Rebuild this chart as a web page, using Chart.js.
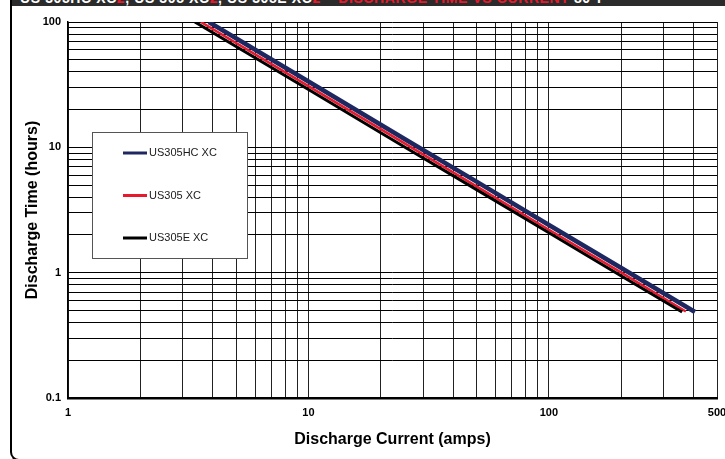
<!DOCTYPE html>
<html>
<head>
<meta charset="utf-8">
<script src="https://cdn.jsdelivr.net/npm/chart.js@4/dist/chart.umd.min.js"></script>
<style>
  html, body { margin: 0; padding: 0; background: #fff; }
  #wrap { position: relative; width: 725px; height: 459px; overflow: hidden; }
  #c { position: absolute; left: 0; top: 0; }
  #band { position: absolute; left: 10px; top: 0; right: 0; height: 6px; background: #2b2b2b; overflow: hidden; }
  #band span.t { position: absolute; left: 10px; top: -10px; white-space: nowrap; font: bold 14px "Liberation Sans", Arial, sans-serif; color: #fff; letter-spacing: 0.6px; }
  #band .r { color: #e8192c; }
  #frame { position: absolute; left: 10px; top: 0; width: 760px; height: 459px; border-left: 2.5px solid #000; border-bottom: 2.5px solid #000; border-bottom-left-radius: 9px; pointer-events: none; }
</style>
</head>
<body>
<div id="wrap">
  <canvas id="c" width="725" height="459"></canvas>
  <div id="band"><span class="t">US 305HC XC<span class="r">2</span>, US 305 XC<span class="r">2</span>, US 305E XC<span class="r">2</span> &ndash; <span class="r">DISCHARGE TIME VS CURRENT</span> 80&deg;F <span class="r">&bull;</span></span></div>
  <div id="frame"></div>
</div>
<script>
// values (current in amps, time in hours)
const seriesNames = ['US305HC XC', 'US305 XC', 'US305E XC'];
const seriesColors = ['#1e2860', '#e8192c', '#000000'];
const seriesWidths = [4.5, 2.5, 3];

const hcCurrent = [3.85, 10, 25, 50, 100, 200, 405];
const hcTime    = [100, 33.5, 11.7, 5.32, 2.40, 1.09, 0.485];

const stdCurrent = [3.57, 10, 25, 50, 100, 200, 371];
const stdTime    = [100, 30.8, 10.8, 4.88, 2.20, 1.00, 0.49];

const eCurrent = [3.37, 10, 25, 50, 100, 200, 358];
const eTime    = [100, 28.9, 10.1, 4.60, 2.08, 0.94, 0.485];

const xTickLabels = [1, 10, 100, 500];
const yTickLabels = [0.1, 1, 10, 100];
const gridMultiples = [1, 2, 3, 4, 5, 6, 7, 8, 9];

function logGrid(min, max) {
    const out = [];
    for (let d = min; d <= max; d *= 10) {
        gridMultiples.forEach(m => {
            const v = Number((m * d).toPrecision(3));
            if (v >= min && v <= max) out.push(v);
        });
    }
    if (out[out.length - 1] !== max) out.push(max);
    return out;
}

const toPoints = (xs, ys) => xs.map((x, i) => ({ x: x, y: ys[i] }));
const allPoints = [toPoints(hcCurrent, hcTime), toPoints(stdCurrent, stdTime), toPoints(eCurrent, eTime)];

// legend box inside the plot, drawn by hand
const boxLegend = {
    id: 'boxLegend',
    afterDraw(chart) {
        const ctx = chart.ctx;
        ctx.save();
        ctx.fillStyle = '#fff';
        ctx.fillRect(92, 132, 156, 127);
        ctx.strokeStyle = '#555';
        ctx.lineWidth = 1;
        ctx.strokeRect(92.5, 132.5, 155, 126);
        ctx.font = '11px "Liberation Sans", Arial, sans-serif';
        ctx.textBaseline = 'middle';
        chart.data.datasets.forEach((ds, i) => {
            const y = 153 + i * 42.5;
            ctx.strokeStyle = ds.borderColor;
            ctx.lineWidth = 3;
            ctx.beginPath();
            ctx.moveTo(123, y);
            ctx.lineTo(147, y);
            ctx.stroke();
            ctx.fillStyle = '#1a1a1a';
            ctx.fillText(ds.label, 149, y);
        });
        ctx.restore();
    }
};

const tickFont = { family: '"Liberation Sans", Arial, sans-serif', size: 11, weight: 'bold' };
const titleFont = { family: '"Liberation Sans", Arial, sans-serif', size: 16, weight: 'bold' };

new Chart(document.getElementById('c'), {
    type: 'line',
    data: {
        datasets: seriesNames.map((name, i) => ({
            label: name,
            data: allPoints[i],
            borderColor: seriesColors[i],
            backgroundColor: seriesColors[i],
            borderWidth: seriesWidths[i],
            pointRadius: 0,
            tension: 0,
            fill: false,
            order: 2 - i
        }))
    },
    options: {
        responsive: false,
        animation: false,
        devicePixelRatio: 1,
        layout: { padding: { left: 0, right: 8, top: 22, bottom: 0 } },
        plugins: { legend: { display: false }, tooltip: { enabled: false } },
        scales: {
            x: {
                type: 'logarithmic',
                min: 1,
                max: 500,
                afterBuildTicks: s => { s.ticks = logGrid(1, 500).map(v => ({ value: v })); },
                afterFit: s => { s.height = 61; s.paddingLeft = 0; s.paddingRight = 0; },
                ticks: {
                    autoSkip: false,
                    maxRotation: 0,
                    padding: 8,
                    color: '#000',
                    font: tickFont,
                    callback: v => xTickLabels.includes(v) ? String(v) : ''
                },
                grid: { color: '#222', lineWidth: 1, drawTicks: false },
                border: { display: true, color: '#000', width: 2.5 },
                title: { display: true, text: 'Discharge Current (amps)', color: '#000', font: titleFont, padding: { top: 0, bottom: 10 } }
            },
            y: {
                type: 'logarithmic',
                min: 0.1,
                max: 100,
                afterBuildTicks: s => { s.ticks = logGrid(0.1, 100).map(v => ({ value: v })); },
                afterFit: s => { s.width = 68; s.paddingTop = 0; s.paddingBottom = 0; },
                ticks: {
                    autoSkip: false,
                    padding: 7,
                    color: '#000',
                    font: tickFont,
                    callback: v => yTickLabels.includes(v) ? String(v) : ''
                },
                grid: { color: '#000', lineWidth: 1, drawTicks: false },
                border: { display: true, color: '#000', width: 1.5 },
                title: { display: true, text: 'Discharge Time (hours)', color: '#000', font: titleFont, padding: { top: 23, bottom: 0 } }
            }
        }
    },
    plugins: [boxLegend]
});
</script>
</body>
</html>
